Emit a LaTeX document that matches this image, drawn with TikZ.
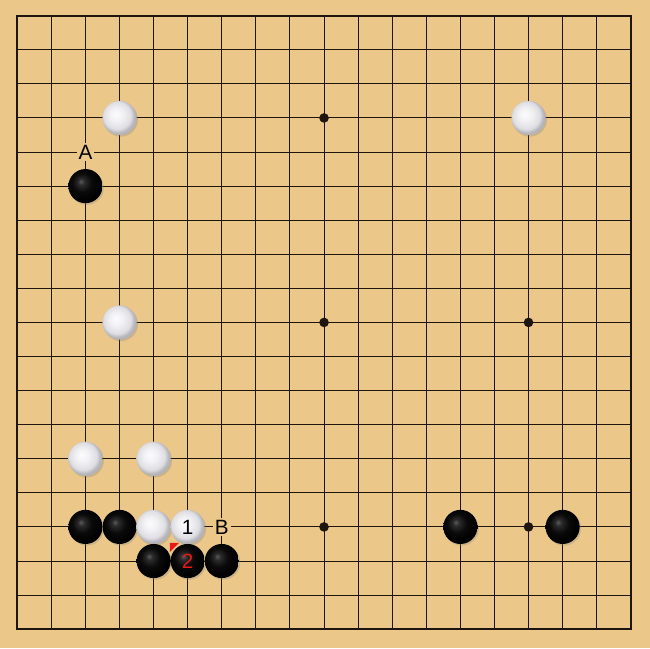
\documentclass[tikz,border=0pt]{standalone}
\usepackage{fontspec}
\setmainfont{Liberation Sans}
\usetikzlibrary{shadows}
\definecolor{wood}{RGB}{235,199,137}
\definecolor{gline}{RGB}{30,22,14}
\definecolor{redmark}{RGB}{232,24,24}
\definecolor{ws0}{RGB}{252,252,253}
\definecolor{ws1}{RGB}{241,241,244}
\definecolor{ws2}{RGB}{222,222,227}
\definecolor{ws3}{RGB}{180,180,186}
\definecolor{bs0}{RGB}{90,90,90}
\definecolor{bs1}{RGB}{42,42,42}
\definecolor{bs2}{RGB}{10,10,10}
\pgfdeclareradialshading{blackstone}{\pgfpoint{-7bp}{7bp}}{color(0bp)=(bs0); color(5bp)=(bs1); color(14bp)=(bs2); color(25bp)=(black); color(50bp)=(black)}
\pgfdeclareradialshading{whitestone}{\pgfpoint{-6bp}{6bp}}{color(0bp)=(ws0); color(10bp)=(ws1); color(20bp)=(ws2); color(25bp)=(ws3); color(50bp)=(ws3)}
\begin{document}
\begin{tikzpicture}[x=25.56pt,y=-25.56pt,
  stone/.style={circle,inner sep=0pt,minimum size=25.6pt,
    font=\fontsize{15.5}{15.5}\selectfont,
    drop shadow={shadow xshift=1pt,shadow yshift=-1.2pt,opacity=0.3}},
  bstone/.style={stone,shade,shading=blackstone},
  wstone/.style={stone,shade,shading=whitestone},
  starpt/.style={circle,fill=gline,inner sep=0pt,minimum size=7.2pt},
  lbl/.style={font=\fontsize{15.5}{15.5}\selectfont,fill=wood,inner sep=1.5pt},
  gridln/.style={draw=gline,line width=0.7pt},
  border/.style={draw=gline,line width=1.6pt}]
\fill[wood] (-0.5076,-0.4607) rectangle (18.564,18.553);
\useasboundingbox (-0.5076,-0.4607) rectangle (18.564,18.553);
% grid
\foreach \i in {1,...,17}{
  \path[gridln] (\i,0) -- (\i,18);
  \path[gridln] (0,\i) -- (18,\i);
}
\path[border] (0,0) rectangle (18,18);
% star points
\foreach \c/\r [count=\k] in {3/3,9/3,15/3,3/9,9/9,15/9,3/15,9/15,15/15}
  \node[starpt] (star\k) at (\c,\r) {};
% labels
\node[lbl] (la) at (2,4) {A};
\node[lbl] (lb) at (6,15) {B};
% last-move marker
\coordinate (m1) at (4.48,15.47);
\coordinate (m2) at (4.74,15.47);
\coordinate (m3) at (4.48,15.73);
\fill[redmark] (m1) -- (m2) -- (m3) -- cycle;
% stones
\node[wstone] (w1) at (3,3) {};
\node[wstone] (w2) at (15,3) {};
\node[bstone] (b1) at (2,5) {};
\node[wstone] (w3) at (3,9) {};
\node[wstone] (w4) at (2,13) {};
\node[wstone] (w5) at (4,13) {};
\node[bstone] (b2) at (2,15) {};
\node[bstone] (b3) at (3,15) {};
\node[wstone] (w6) at (4,15) {};
\node[wstone,text=black] (w7) at (5,15) {1};
\node[bstone] (b4) at (13,15) {};
\node[bstone] (b5) at (16,15) {};
\node[bstone] (b6) at (4,16) {};
\node[bstone,text=redmark] (b7) at (5,16) {2};
\node[bstone] (b8) at (6,16) {};
\end{tikzpicture}
\end{document}
